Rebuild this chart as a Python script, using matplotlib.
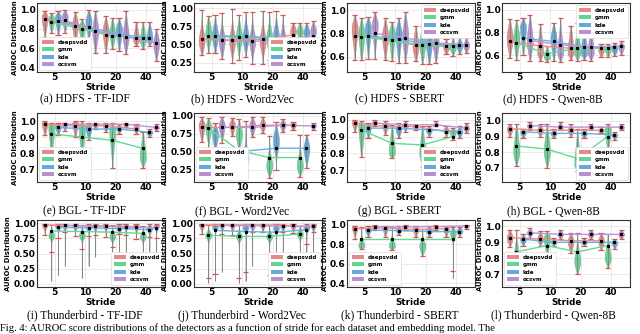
import numpy as np
import matplotlib
matplotlib.use("Agg")
import matplotlib.pyplot as plt
from matplotlib.patches import Patch

# ---------------- data ----------------
strides = ["5", "10", "20", "40"]
methods = ["deepsvdd", "gmm", "kde", "ocsvm"]
captions = ["(a) HDFS - TF-IDF", "(b) HDFS - Word2Vec", "(c) HDFS - SBERT", "(d) HDFS - Qwen-8B",
            "(e) BGL - TF-IDF", "(f) BGL - Word2Vec", "(g) BGL - SBERT", "(h) BGL - Qwen-8B",
            "(i) Thunderbird - TF-IDF", "(j) Thunderbird - Word2Vec", "(k) Thunderbird - SBERT",
            "(l) Thunderbird - Qwen-8B"]

# rows = methods (deepsvdd, gmm, kde, ocsvm), cols = strides (5, 10, 20, 40)
mean_a = [[.90, .83, .74, .70], [.87, .80, .73, .70], [.88, .82, .74, .71], [.89, .78, .72, .65]]
hi_a = [[.99, .98, .93, .87], [.97, .90, .91, .87], [.99, 1.0, .91, .87], [1.0, .99, .99, .80]]
lo_a = [[.72, .65, .55, .62], [.76, .65, .59, .59], [.74, .69, .57, .62], [.76, .55, .54, .47]]
mode_a = [[.93, .85, .78, .68], [.90, .82, .75, .68], [.92, .88, .80, .70], [.93, .78, .72, .65]]

mean_b = [[.57, .56, .57, .63], [.61, .60, .58, .58], [.62, .61, .59, .59], [.56, .54, .57, .62]]
hi_b = [[.98, .99, .96, .80], [.89, .91, .94, .80], [.91, .94, .96, .80], [.93, .94, .91, .82]]
lo_b = [[.35, .25, .23, .55], [.38, .28, .28, .55], [.38, .33, .35, .56], [.30, .23, .33, .55]]
mode_b = [[.55, .55, .55, .68], [.65, .60, .58, .68], [.62, .60, .60, .66], [.55, .55, .55, .68]]

mean_c = [[.78, .75, .70, .69], [.77, .74, .70, .69], [.78, .75, .71, .70], [.80, .76, .72, .70]]
hi_c = [[.96, .93, .86, .75], [.93, .90, .86, .76], [.94, .93, .90, .76], [.98, .98, .88, .76]]
lo_c = [[.57, .57, .56, .62], [.57, .56, .54, .61], [.58, .55, .54, .62], [.58, .55, .55, .63]]
mode_c = [[.85, .78, .68, .68], [.80, .80, .72, .68], [.85, .80, .72, .70], [.88, .78, .72, .70]]

mean_d = [[.72, .68, .66, .66], [.71, .61, .66, .66], [.75, .72, .67, .67], [.73, .69, .67, .68]]
hi_d = [[.92, .87, .86, .70], [.91, .68, .88, .70], [.93, .88, .88, .71], [.95, .93, .90, .72]]
lo_d = [[.57, .55, .56, .58], [.56, .54, .55, .58], [.60, .55, .56, .59], [.55, .54, .55, .60]]
mode_d = [[.75, .62, .62, .65], [.75, .58, .62, .65], [.85, .75, .62, .66], [.72, .62, .62, .68]]

mean_e = [[.98, .97, .97, .95], [.92, .90, .88, .83], [.96, .95, .95, .93], [.98, .98, .98, .96]]
hi_e = [[1.0, 1.0, .99, .98], [.99, 1.0, .99, .93], [.99, .99, .98, .95], [.99, .99, .99, .98]]
lo_e = [[.91, .90, .93, .92], [.78, .69, .71, .71], [.91, .88, .92, .90], [.94, .95, .96, .94]]
mode_e = [[.99, .99, .98, .96], [.97, .96, .95, .77], [.97, .96, .96, .93], [.985, .98, .98, .96]]

mean_f = [[.84, .84, .87, .87], [.83, .52, .42, .42], [.45, .51, .55, .55], [.84, .84, .87, .86]]
hi_f = [[.98, .97, .98, .92], [.97, .95, .72, .73], [.90, .93, .92, .74], [.98, .98, .96, .90]]
lo_f = [[.64, .72, .76, .80], [.35, .22, .14, .15], [.35, .22, .25, .27], [.62, .70, .77, .80]]
mode_f = [[.88, .88, .88, .88], [.85, .75, .30, .30], [.75, .40, .65, .55], [.88, .88, .88, .87]]

mean_g = [[.98, .96, .96, .93], [.94, .86, .85, .90], [.95, .95, .94, .93], [.98, .97, .97, .95]]
hi_g = [[1.0, .99, .97, .96], [.99, .97, .96, .95], [.98, .98, .96, .96], [1.0, .99, .99, .98]]
lo_g = [[.93, .91, .94, .90], [.78, .77, .72, .88], [.89, .89, .90, .89], [.96, .93, .96, .92]]
mode_g = [[.99, .97, .96, .94], [.97, .80, .80, .93], [.96, .95, .94, .93], [.985, .97, .97, .95]]

mean_h = [[.95, .94, .94, .94], [.84, .82, .76, .90], [.93, .92, .92, .91], [.97, .96, .96, .96]]
hi_h = [[.98, .98, .98, .96], [.98, .98, .95, .98], [.95, .95, .95, .93], [.99, .99, .98, .98]]
lo_h = [[.90, .90, .90, .92], [.71, .70, .68, .80], [.89, .89, .89, .88], [.94, .94, .94, .94]]
mode_h = [[.95, .94, .94, .94], [.80, .80, .72, .95], [.93, .92, .92, .91], [.97, .96, .96, .96]]

mean_i = [[.97, .96, .95, .93], [.87, .86, .85, .83], [.93, .92, .91, .89], [.96, .95, .94, .92]]
hi_i = [[.99, .99, .99, .99], [.97, .97, .96, .95], [.99, .99, .99, .98], [.99, .99, .99, .99]]
lo_i = [[.80, .78, .77, .73], [.05, .10, .05, .10], [.15, .30, .35, .40], [.30, .45, .35, .38]]
cap_i = [[.80, .78, .77, .73], [.53, .58, .60, .44], [.75, .78, .82, .77], [.85, .80, .80, .75]]
mode_i = [[.98, .97, .97, .96], [.80, .80, .78, .78], [.96, .95, .94, .92], [.98, .97, .97, .96]]

mean_j = [[.97, .97, .97, .96], [.80, .78, .78, .82], [.88, .86, .85, .89], [.96, .96, .95, .95]]
hi_j = [[.99, .99, .99, .99], [.97, .96, .96, .95], [.99, .99, .99, .99], [.99, .99, .99, .99]]
lo_j = [[.82, .80, .85, .83], [.02, .02, .02, .02], [.05, .05, .10, .20], [.20, .30, .30, .30]]
cap_j = [[.82, .80, .85, .83], [.10, .10, .15, .45], [.16, .20, .30, .65], [.82, .85, .85, .85]]
mode_j = [[.98, .98, .98, .97], [.80, .78, .78, .82], [.95, .93, .92, .93], [.98, .97, .97, .97]]

mean_k = [[.96, .97, .95, .96], [.85, .85, .85, .85], [.95, .94, .93, .93], [.98, .98, .98, .99]]
hi_k = [[.99, .99, .99, .99], [.98, .98, .96, .98], [.99, .99, .99, .98], [1.0, 1.0, 1.0, 1.0]]
lo_k = [[.85, .88, .87, .88], [.75, .74, .68, .45], [.88, .90, .88, .88], [.95, .95, .95, .96]]
cap_k = [[.85, .88, .87, .88], [.75, .74, .68, .52], [.88, .90, .88, .88], [.95, .95, .95, .96]]
mode_k = [[.98, .98, .97, .97], [.78, .78, .78, .92], [.96, .95, .94, .94], [.99, .99, .99, .99]]

mean_l = [[.93, .92, .91, .91], [.84, .88, .84, .88], [.92, .90, .90, .90], [.96, .95, .95, .95]]
hi_l = [[.98, .97, .96, .96], [.98, .97, .96, .95], [.95, .93, .93, .92], [.99, .98, .98, .98]]
lo_l = [[.87, .88, .83, .85], [.74, .74, .70, .74], [.88, .88, .88, .86], [.93, .92, .92, .92]]
mode_l = [[.93, .92, .91, .91], [.80, .93, .78, .80], [.92, .90, .90, .90], [.96, .95, .95, .95]]

yticks_list = [[0.4, 0.6, 0.8, 1.0], [0.25, 0.50, 0.75, 1.00], [0.6, 0.8, 1.0], [0.6, 0.8, 1.0],
               [0.7, 0.8, 0.9, 1.0], [0.25, 0.50, 0.75, 1.00], [0.7, 0.8, 0.9, 1.0], [0.7, 0.8, 0.9, 1.0],
               [0.0, 0.25, 0.50, 0.75, 1.00], [0.0, 0.25, 0.50, 0.75, 1.00], [0.4, 0.6, 0.8, 1.0],
               [0.7, 0.8, 0.9, 1.0]]
ytick_fmt = ["%.1f", "%.2f", "%.1f", "%.1f", "%.1f", "%.2f", "%.1f", "%.1f", "%.2f", "%.2f", "%.1f", "%.1f"]
ylims = [(0.35, 1.07), (0.12, 1.07), (0.47, 1.06), (0.45, 1.06),
         (0.62, 1.05), (0.08, 1.04), (0.63, 1.04), (0.61, 1.05),
         (-0.05, 1.05), (-0.05, 1.05), (0.36, 1.05), (0.62, 1.04)]
legend_locs = ["lower left", "lower right", "upper right", "upper right",
               "lower left", "lower left", "lower right", "lower right",
               "lower right", "lower right", "lower left", "lower left"]

panels = [
    (mean_a, hi_a, lo_a, lo_a, mode_a), (mean_b, hi_b, lo_b, lo_b, mode_b),
    (mean_c, hi_c, lo_c, lo_c, mode_c), (mean_d, hi_d, lo_d, lo_d, mode_d),
    (mean_e, hi_e, lo_e, lo_e, mode_e), (mean_f, hi_f, lo_f, lo_f, mode_f),
    (mean_g, hi_g, lo_g, lo_g, mode_g), (mean_h, hi_h, lo_h, lo_h, mode_h),
    (mean_i, hi_i, lo_i, cap_i, mode_i), (mean_j, hi_j, lo_j, cap_j, mode_j),
    (mean_k, hi_k, lo_k, cap_k, mode_k), (mean_l, hi_l, lo_l, lo_l, mode_l),
]

# ---------------- style ----------------
colors = ["#e36b6b", "#3ec97a", "#3d96d4", "#a576c9"]
line_colors = ["#ef8a8a", "#5fdc92", "#62b2e6", "#bb94d9"]
cap_color = "#d9534f"
offsets = [-0.33, -0.11, 0.11, 0.33]
vwidth = 0.2
spread_cap = [0.12, 0.12, 0.12, 0.12, 0.1, 0.12, 0.1, 0.1, 0.05, 0.05, 0.05, 0.06]

W, H = 640, 334
fig = plt.figure(figsize=(6.4, 3.34), dpi=100)
lefts = [37, 194, 347, 502]
tops = [3, 113, 220]
aw = 128
ahs = [69, 69, 67]
cap_x = [85, 242, 400, 553]
cap_y = [99, 211, 315.5]


def vstats(lo, hi, mode, mean, cap):
    c = np.linspace(lo, hi, 150)
    sl = min(max((mode - lo) / 2.0, 0.004), cap)
    sr = min(max((hi - mode) / 2.0, 0.004), cap)
    s = np.where(c < mode, sl, sr)
    v = np.exp(-0.5 * ((c - mode) / s) ** 2) + 0.06
    return dict(coords=c, vals=v, mean=mean, median=mode, min=lo, max=hi, quantiles=[])


for p in range(12):
    r, col = divmod(p, 4)
    ah = ahs[r]
    ax = fig.add_axes([lefts[col] / W, 1 - (tops[r] + ah) / H, aw / W, ah / H])
    means, his, los, caps, modes = panels[p]
    ax.set_axisbelow(True)
    ax.grid(True, color="#e6e6e6", lw=0.6)
    for m in range(4):
        pos = [s + offsets[m] for s in range(4)]
        stats = [vstats(los[m][s], his[m][s], modes[m][s], means[m][s], spread_cap[p]) for s in range(4)]
        parts = ax.violin(stats, positions=pos, widths=vwidth, showmeans=False,
                          showextrema=False, showmedians=False)
        for b in parts["bodies"]:
            b.set_facecolor(colors[m])
            b.set_edgecolor("#8a8a8a")
            b.set_linewidth(0.3)
            b.set_alpha(0.8)
        ax.vlines(pos, [los[m][s] for s in range(4)], [his[m][s] for s in range(4)],
                  color="#808080", lw=0.6, zorder=3)
        for s in range(4):
            ax.hlines([caps[m][s], his[m][s]], pos[s] - 0.085, pos[s] + 0.085,
                      color=cap_color, lw=0.9, zorder=4)
        ax.plot(pos, means[m], color=line_colors[m], lw=1.0, zorder=5)
        ax.plot(pos, means[m], "s", color="black", ms=1.3, zorder=6)
    ax.set_xlim(-0.58, 3.62)
    ax.set_ylim(*ylims[p])
    ax.set_xticks(range(4))
    ax.set_xticklabels(strides)
    ax.set_yticks(yticks_list[p])
    ax.set_yticklabels([ytick_fmt[p] % t for t in yticks_list[p]])
    ax.tick_params(labelsize=6.5, pad=1, length=0)
    for lab in ax.get_xticklabels() + ax.get_yticklabels():
        lab.set_fontweight("bold")
    ax.set_xlabel("Stride", fontsize=6.3, fontweight="bold", labelpad=0.3)
    ax.set_ylabel("AUROC Distribution", fontsize=4.9, fontweight="bold", labelpad=1.5)
    for sp in ax.spines.values():
        sp.set_color("#333333")
        sp.set_linewidth(0.8)
    handles = [Patch(facecolor=colors[m], alpha=0.8, edgecolor="none") for m in range(4)]
    leg = ax.legend(handles, methods, loc=legend_locs[p],
                    prop=dict(weight="bold", size=4.0), handlelength=2.2, handleheight=0.7,
                    labelspacing=0.45, borderpad=0.45, handletextpad=0.7, framealpha=1,
                    edgecolor="#dddddd", fancybox=True, borderaxespad=0.4)
    leg.get_frame().set_linewidth(0.5)
    leg.set_zorder(10)
    fig.text(cap_x[col] / W, 1 - cap_y[r] / H, captions[p], ha="center", va="center",
             family="Liberation Serif", fontsize=8.3)

fig.text(0.0, 1 - 328 / H, "Fig. 4: AUROC score distributions of the detectors as a function of stride for each dataset and embedding model. The",
         ha="left", va="center", family="Liberation Serif", fontsize=7.6)

fig.savefig("out.png", dpi=100)
